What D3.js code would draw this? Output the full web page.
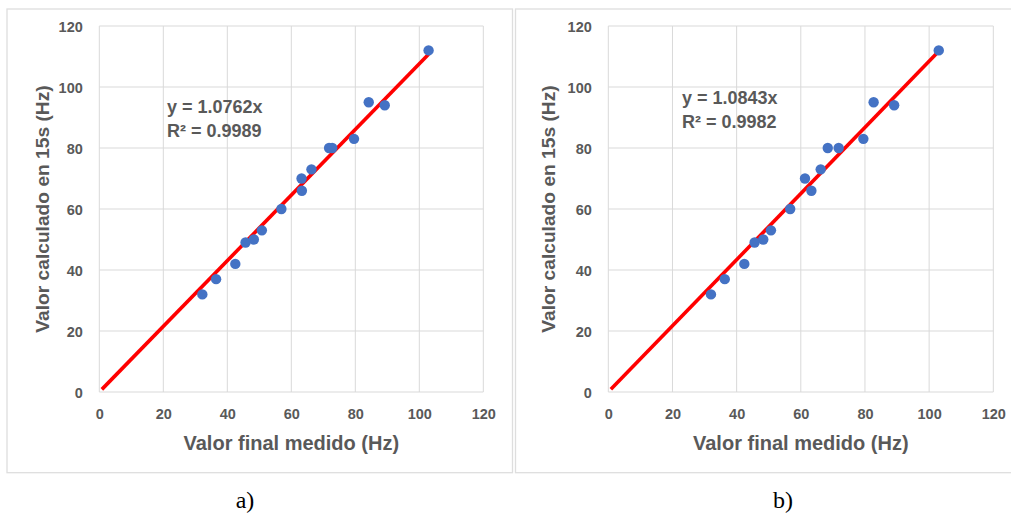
<!DOCTYPE html>
<html>
<head>
<meta charset="utf-8">
<script src="https://cdn.jsdelivr.net/npm/d3@7/dist/d3.min.js"></script>
<style>
  html, body { margin: 0; padding: 0; background: #ffffff; }
  svg { display: block; }
</style>
</head>
<body>
<svg id="chart" width="1011" height="514"></svg>
<script>
// ---- data ----
const xTicks = [0, 20, 40, 60, 80, 100, 120];
const yTicks = [0, 20, 40, 60, 80, 100, 120];

const xA = [32.2, 36.5, 42.5, 45.7, 48.3, 50.8, 56.9, 63.2, 63.3, 66.3, 71.8, 72.8, 79.6, 84.2, 89.2, 102.9];
const yA = [32, 37, 42, 49, 50, 53, 60, 70, 66, 73, 80, 80, 83, 95, 94, 112];
const slopeA = 1.0762;
const r2A = "0.9989";

const xB = [32.0, 36.3, 42.4, 45.6, 48.3, 50.7, 56.7, 61.3, 63.3, 66.2, 68.4, 71.8, 79.5, 82.7, 89.1, 103.0];
const yB = [32, 37, 42, 49, 50, 53, 60, 70, 66, 73, 80, 80, 83, 95, 94, 112];
const slopeB = 1.0843;
const r2B = "0.9982";

const trendStart = [0.8, 0.8];
const captions = ["a)", "b)"];
const xTitle = "Valor final medido (Hz)";
const yTitle = "Valor calculado en 15s (Hz)";

// ---- drawing ----
const svg = d3.select("#chart");
const textColor = "#595959";
const gridColor = "#d9d9d9";
const font = "'Liberation Sans', Arial, sans-serif";

const panels = [
  { box: [7, 9, 512.5, 472.7], plot: [99.3, 483.3, 26, 392], eq: [167, 113], yT: 48.5, cap: 245,
    xs: xA, ys: yA, slope: slopeA, r2: r2A, t0: trendStart[0], caption: captions[0] },
  { box: [515.5, 9, 1013, 472.7], plot: [608.3, 993.3, 26, 392], eq: [682, 104], yT: 555, cap: 783,
    xs: xB, ys: yB, slope: slopeB, r2: r2B, t0: trendStart[1], caption: captions[1] }
];

panels.forEach(p => {
  const [bx0, by0, bx1, by1] = p.box;
  svg.append("rect")
    .attr("x", bx0).attr("y", by0)
    .attr("width", bx1 - bx0).attr("height", by1 - by0)
    .attr("fill", "#fff").attr("stroke", "#dedede").attr("stroke-width", 1.3);

  const [l, r, t, b] = p.plot;
  const x = d3.scaleLinear().domain([0, 120]).range([l, r]);
  const y = d3.scaleLinear().domain([0, 120]).range([b, t]);
  const g = svg.append("g");

  // grid
  g.append("g").selectAll("line").data(xTicks).join("line")
    .attr("x1", d => x(d)).attr("x2", d => x(d))
    .attr("y1", t).attr("y2", b)
    .attr("stroke", gridColor).attr("stroke-width", 1);
  g.append("g").selectAll("line").data(yTicks).join("line")
    .attr("y1", d => y(d)).attr("y2", d => y(d))
    .attr("x1", l).attr("x2", r)
    .attr("stroke", gridColor).attr("stroke-width", 1);

  // axes (tick labels only)
  const xAxis = d3.axisBottom(x).tickValues(xTicks).tickSize(0).tickPadding(0);
  const yAxis = d3.axisLeft(y).tickValues(yTicks).tickSize(0).tickPadding(0);
  const gx = g.append("g").attr("transform", `translate(0,${b})`).call(xAxis);
  const gy = g.append("g").attr("transform", `translate(${l - 16.5},0)`).call(yAxis);
  [gx, gy].forEach(a => {
    a.select(".domain").remove();
    a.selectAll("text")
      .attr("fill", textColor)
      .style("font-family", font)
      .style("font-weight", "bold")
      .style("font-size", "14.5px");
  });
  gx.selectAll("text").attr("dy", null).attr("y", 26.8);
  gy.selectAll("text").attr("dy", "0.35em");

  // trend line
  const xmax = d3.max(p.xs);
  const trend = [p.t0, xmax].map(v => [v, p.slope * v]);
  g.append("path")
    .attr("d", d3.line().x(d => x(d[0])).y(d => y(d[1]))(trend))
    .attr("stroke", "#ff0000").attr("stroke-width", 3.6).attr("fill", "none");

  // points
  g.append("g").selectAll("circle").data(p.xs.map((v, i) => [v, p.ys[i]])).join("circle")
    .attr("cx", d => x(d[0])).attr("cy", d => y(d[1])).attr("r", 5.2)
    .attr("fill", "#4472c4");

  // equation
  g.append("text").attr("x", p.eq[0]).attr("y", p.eq[1])
    .attr("fill", textColor).style("font-family", font).style("font-weight", "bold").style("font-size", "18px")
    .text(`y = ${p.slope.toFixed(4)}x`);
  g.append("text").attr("x", p.eq[0]).attr("y", p.eq[1] + 23.5)
    .attr("fill", textColor).style("font-family", font).style("font-weight", "bold").style("font-size", "18px")
    .text(`R² = ${p.r2}`);

  // axis titles
  g.append("text").attr("x", (l + r) / 2).attr("y", 450)
    .attr("text-anchor", "middle")
    .attr("fill", textColor).style("font-family", font).style("font-weight", "bold").style("font-size", "20px")
    .text(xTitle);
  g.append("text")
    .attr("transform", `translate(${p.yT},${(t + b) / 2}) rotate(-90)`)
    .attr("text-anchor", "middle")
    .attr("fill", textColor).style("font-family", font).style("font-weight", "bold").style("font-size", "19.2px")
    .text(yTitle);

  // caption
  svg.append("text").attr("x", p.cap).attr("y", 508)
    .attr("text-anchor", "middle")
    .attr("fill", "#000").style("font-family", "'Liberation Serif', 'Times New Roman', serif").style("font-size", "24px")
    .text(p.caption);
});
</script>
</body>
</html>
